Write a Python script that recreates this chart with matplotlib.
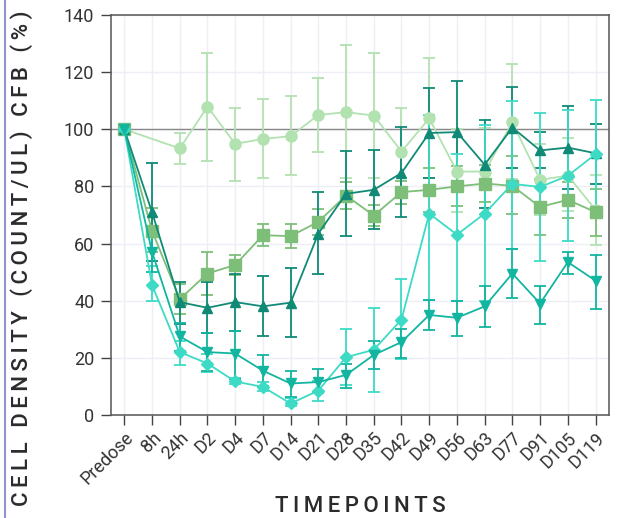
import numpy as np
import matplotlib
matplotlib.use('Agg')
import matplotlib.pyplot as plt
from matplotlib.lines import Line2D

plt.rcParams['font.family'] = ['Roboto', 'DejaVu Sans']

# Timepoints on the x axis
timepoints = ['Predose', '8h', '24h', 'D2', 'D4', 'D7', 'D14', 'D21', 'D28',
              'D35', 'D42', 'D49', 'D56', 'D63', 'D77', 'D91', 'D105', 'D119']

nan = np.nan

# Light green circles (no 8h sample)
circ_val = [100, nan, 93.3, 107.9, 94.9, 96.6, 97.6, 105.0, 106.0, 104.8, 92.2, 103.8, 85.2, 85.2, 102.4, 82.3, 83.8, 71.8]
circ_lo = [100, nan, 88.0, 89.0, 82.0, 83.0, 84.0, 92.0, 83.0, 83.0, 77.5, 83.0, 71.0, 70.5, 82.5, 70.0, 71.5, 59.5]
circ_hi = [100, nan, 98.8, 126.7, 107.6, 110.5, 111.5, 118.1, 129.5, 126.7, 107.3, 124.8, 100.0, 100.5, 122.7, 95.0, 97.0, 84.0]

# Green squares
sq_val = [100, 64.5, 40.5, 49.5, 52.5, 62.9, 62.6, 67.6, 76.8, 69.8, 78.0, 78.8, 80.0, 81.0, 80.2, 72.8, 75.3, 71.0]
sq_lo = [100, 57.0, 35.5, 42.0, 49.0, 59.0, 58.5, 63.0, 72.0, 66.0, 74.0, 71.0, 73.0, 74.5, 70.5, 63.0, 69.0, 62.7]
sq_hi = [100, 72.5, 46.0, 57.0, 56.0, 66.8, 67.0, 72.0, 81.5, 73.5, 82.0, 86.5, 87.0, 87.5, 90.5, 82.5, 81.5, 79.0]

# Dark teal triangles (up)
up_val = [100, 71.0, 39.5, 37.5, 39.5, 38.0, 39.3, 63.5, 77.4, 78.8, 84.7, 98.7, 99.0, 87.6, 100.6, 92.6, 93.6, 91.6]
up_lo = [100, 54.0, 32.0, 28.7, 29.5, 27.8, 27.2, 49.5, 62.7, 65.0, 69.3, 83.0, 82.0, 72.5, 86.5, 86.5, 79.0, 81.0]
up_hi = [100, 88.1, 46.5, 46.5, 49.5, 48.5, 51.5, 78.0, 92.3, 92.7, 100.7, 114.3, 117.0, 103.4, 114.7, 99.0, 108.3, 102.0]

# Turquoise diamonds
dia_val = [100, 45.5, 22.0, 18.0, 11.7, 9.8, 4.0, 8.5, 20.2, 22.8, 33.4, 70.5, 63.1, 70.5, 80.9, 79.8, 83.7, 91.3]
dia_lo = [100, 40.0, 17.5, 15.0, 10.8, 8.5, 3.0, 5.0, 10.5, 8.0, 19.5, 40.2, 40.0, 40.0, 58.1, 54.0, 61.0, 72.0]
dia_hi = [100, 52.0, 26.0, 21.5, 13.0, 11.5, 6.0, 12.0, 30.0, 37.5, 47.5, 104.9, 91.5, 101.5, 110.0, 105.8, 106.7, 110.4]

# Teal triangles (down)
dn_val = [100, 57.1, 27.5, 22.0, 21.5, 15.5, 11.0, 11.5, 14.0, 21.0, 25.5, 35.0, 34.0, 38.0, 49.5, 39.0, 53.5, 47.0]
dn_lo = [100, 50.0, 22.5, 15.5, 12.5, 10.0, 6.3, 7.5, 9.5, 16.0, 20.0, 29.7, 27.7, 30.8, 41.0, 32.0, 49.5, 37.0]
dn_hi = [100, 63.0, 32.2, 28.7, 29.5, 21.0, 15.5, 16.0, 18.0, 26.0, 30.0, 40.2, 40.0, 45.0, 58.0, 45.0, 57.0, 56.0]

series = [
    (circ_val, circ_lo, circ_hi, '#b3e2b1', 'o', 8),
    (sq_val, sq_lo, sq_hi, '#7dbf78', 's', 8),
    (up_val, up_lo, up_hi, '#108a76', '^', 7.5),
    (dia_val, dia_lo, dia_hi, '#3ddbc6', 'D', 6),
    (dn_val, dn_lo, dn_hi, '#12b5a0', 'v', 7.5),
]

fig = plt.figure(figsize=(6.2, 5.18), dpi=100)
ax = fig.add_axes([0.179, 0.199, 0.803, 0.772])

x_all = np.arange(len(timepoints))
for val, lo, hi, color, marker, ms in series:
    val = np.array(val, dtype=float)
    lo = np.array(lo, dtype=float)
    hi = np.array(hi, dtype=float)
    keep = ~np.isnan(val)
    x = x_all[keep]
    v = val[keep]
    err = [v - lo[keep], hi[keep] - v]
    ax.errorbar(x, v, yerr=err, color=color, marker=marker, markersize=ms,
                linewidth=1.3, elinewidth=1.3, capsize=4.5, capthick=1.3)

# reference line at 100 %
ax.axhline(100, color='#888888', linewidth=1.0, zorder=1)

ax.set_xlim(-0.48, 17.48)
ax.set_ylim(0, 140)
ax.set_yticks(np.arange(0, 141, 20))
ax.set_xticks(x_all)
ax.set_xticklabels(timepoints, rotation=45, ha='right', rotation_mode='anchor')
ax.grid(True, color='#eeeef7', linewidth=1.0, zorder=0)
ax.set_axisbelow(True)
ax.tick_params(axis='both', labelsize=13, labelcolor='#333333', color='#444444',
               length=7, width=1.0, direction='out')
ax.tick_params(axis='y', pad=5)
ax.tick_params(axis='x', pad=3)
for s in ax.spines.values():
    s.set_color('#555555')
    s.set_linewidth(1.1)

sp = '\u2009'
ylab = sp.join('CELL DENSITY (COUNT/UL) CFB (%)')
xlab = sp.join('TIMEPOINTS')
fig.text(22 / 620, 1 - 258 / 518, ylab, rotation=90, ha='center', va='center',
         fontsize=16, color='#2b2b2b', fontweight='medium')
fig.text(360 / 620, 1 - 506 / 518, xlab, ha='center', va='center',
         fontsize=16, color='#2b2b2b', fontweight='medium')

# card border line on the left edge
fig.add_artist(Line2D([5 / 620, 5 / 620], [0, 1], color='#8e96c8', linewidth=1.5))

fig.savefig('out.png', dpi=100)
